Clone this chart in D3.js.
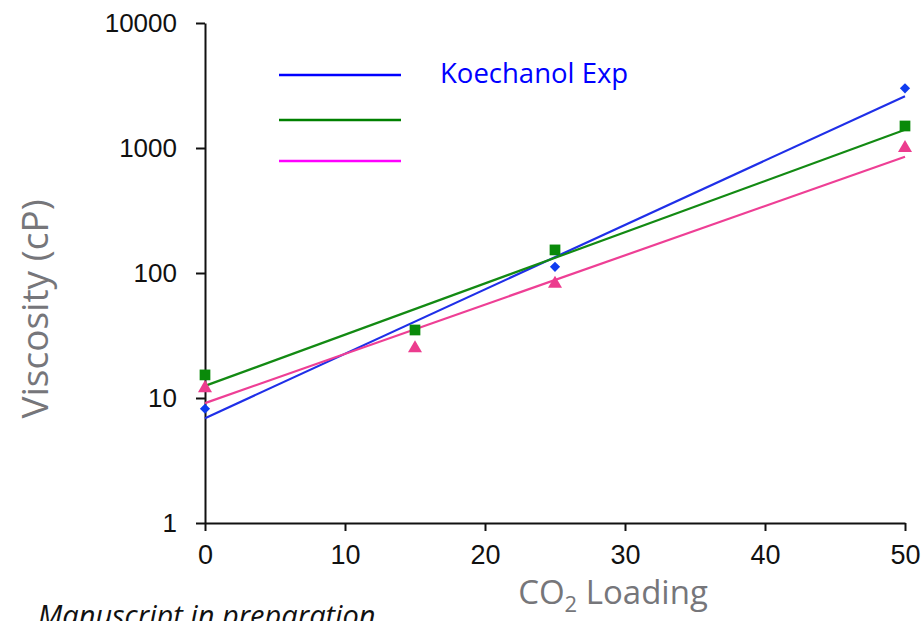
<!DOCTYPE html>
<html>
<head>
<meta charset="utf-8">
<script src="https://cdn.jsdelivr.net/npm/d3@7"></script>
<style>
  body { margin: 0; background: #fff; }
  svg { display: block; }
</style>
</head>
<body>
<svg id="chart"></svg>
<script>
// measured points (CO2 loading vs viscosity, cP)
const loadings = [0, 15, 25, 50];
const blueExp = [8.2, null, 112, 3000];
const greenExp = [15.3, 35, 153, 1500];
const pinkExp = [12, 25, 82, 1000];

// trend line end values at loading 0 and 50
const fitLoadings = [0, 50];
const blueFit = [6.9, 2600];
const greenFit = [12.5, 1400];
const pinkFit = [9.1, 850];

const xTicks = [0, 10, 20, 30, 40, 50];
const yTicks = [1, 10, 100, 1000, 10000];
const legendLabels = ['Koechanol Exp', '', ''];

const config = {
  width: 924,
  height: 621,
  margin: {top: 23, right: 19, bottom: 98, left: 205}
};

const svg = d3.select('#chart')
    .attr('width', config.width)
    .attr('height', config.height);

const innerW = config.width - config.margin.left - config.margin.right;
const innerH = config.height - config.margin.top - config.margin.bottom;

const xScale = d3.scaleLinear().domain([0, 50]).range([0, innerW]);
const yScale = d3.scaleLog().domain([1, 10000]).range([innerH, 0]);

const chart = svg.append('g')
    .attr('transform', `translate(${config.margin.left},${config.margin.top})`);

// axes
const xAxis = d3.axisBottom(xScale)
    .tickValues(xTicks)
    .tickSize(8)
    .tickSizeOuter(0)
    .tickPadding(14)
    .tickFormat(d3.format('d'));

const yAxis = d3.axisLeft(yScale)
    .tickValues(yTicks)
    .tickSize(9)
    .tickSizeOuter(0)
    .tickPadding(19)
    .tickFormat(d3.format('d'));

const xAxisG = chart.append('g')
    .attr('transform', `translate(0,${innerH})`)
    .call(xAxis);
xAxisG.selectAll('text')
    .style('font-family', '"Liberation Sans Narrow", "Liberation Sans", Arial, sans-serif')
    .style('font-size', '27px')
    .attr('fill', '#111');

const yAxisG = chart.append('g').call(yAxis);
yAxisG.selectAll('text')
    .style('font-family', '"Liberation Sans", Arial, sans-serif')
    .style('font-size', '26px')
    .attr('fill', '#111');

chart.selectAll('.domain, .tick line')
    .attr('stroke', '#111')
    .attr('stroke-width', 2);

// trend lines
const fitLine = d3.line()
    .x(d => xScale(d[0]))
    .y(d => yScale(d[1]));

const fits = [
  {vals: blueFit, color: '#1f2fe8'},
  {vals: greenFit, color: '#138a13'},
  {vals: pinkFit, color: '#ee3f95'}
];

chart.selectAll('.fit')
    .data(fits)
    .join('path')
      .attr('class', 'fit')
      .attr('d', d => fitLine(fitLoadings.map((x, i) => [x, d.vals[i]])))
      .attr('fill', 'none')
      .attr('stroke', d => d.color)
      .attr('stroke-width', 2.2);

// markers
const series = [
  {vals: greenExp, color: '#0a8a0a', shape: d3.symbolSquare, size: 115, rot: 0},
  {vals: pinkExp, color: '#ec3c8e', shape: d3.symbolTriangle, size: 85, rot: 0},
  {vals: blueExp, color: '#0f3cf0', shape: d3.symbolSquare, size: 52, rot: 45}
];

series.forEach(s => {
  const pts = loadings
      .map((x, i) => ({x: x, y: s.vals[i]}))
      .filter(p => p.y != null);
  chart.append('g').selectAll('path')
      .data(pts)
      .join('path')
        .attr('transform', d => `translate(${xScale(d.x)},${yScale(d.y)}) rotate(${s.rot})`)
        .attr('d', d3.symbol().type(s.shape).size(s.size))
        .attr('fill', s.color);
});

// legend
const legendColors = ['#0000ff', '#008000', '#ff00ff'];
const legendY = [75, 120, 161];
const legend = svg.append('g');
legendColors.forEach((c, i) => {
  legend.append('line')
      .attr('x1', 279).attr('x2', 401)
      .attr('y1', legendY[i]).attr('y2', legendY[i])
      .attr('stroke', c)
      .attr('stroke-width', 2.5);
  legend.append('text')
      .attr('x', 440)
      .attr('y', legendY[i] + 8)
      .attr('fill', c)
      .style('font-family', '"Open Sans", sans-serif')
      .style('font-size', '27.5px')
      .text(legendLabels[i]);
});

// axis titles
svg.append('text')
    .attr('transform', 'translate(48,309) rotate(-90)')
    .attr('text-anchor', 'middle')
    .attr('fill', '#76767a')
    .style('font-family', '"Open Sans", sans-serif')
    .style('font-size', '37px')
    .text('Viscosity (cP)');

const xTitle = svg.append('text')
    .attr('x', 613)
    .attr('y', 604)
    .attr('text-anchor', 'middle')
    .attr('fill', '#76767a')
    .style('font-family', '"Open Sans", sans-serif')
    .style('font-size', '33px');
xTitle.append('tspan').text('CO');
xTitle.append('tspan').attr('dy', 8).style('font-size', '22px').text('2');
xTitle.append('tspan').attr('dy', -8).text(' Loading');

svg.append('text')
    .attr('x', 38)
    .attr('y', 626)
    .attr('fill', '#111')
    .style('font-family', '"Open Sans", sans-serif')
    .style('font-style', 'italic')
    .style('font-size', '29px')
    .text('Manuscript in preparation');
</script>
</body>
</html>
